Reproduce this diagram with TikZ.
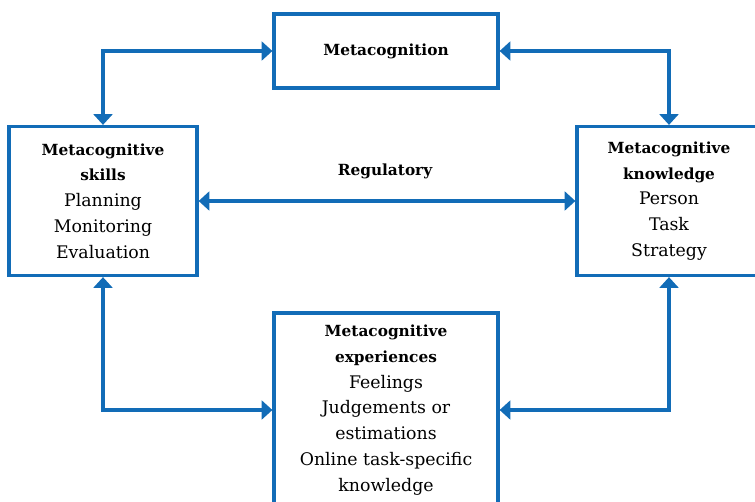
\documentclass[tikz,border=0pt]{standalone}
\usepackage{fontspec}
\setmainfont{DejaVu Serif}
\usetikzlibrary{arrows.meta}
\definecolor{mcblue}{RGB}{18,108,183}
\newcommand\hd[1]{{\bfseries\fontsize{11.5pt}{19.3pt}\selectfont #1}}

\begin{document}
\begin{tikzpicture}[x=0.75pt, y=-0.75pt,
    >={Triangle[width=14pt,length=8pt]},
    box/.style={draw=mcblue, line width=2.4pt, align=center, inner sep=0pt,
      font=\fontsize{13pt}{19.3pt}\selectfont},
    head/.style={font=\bfseries\fontsize{11.5pt}{19.3pt}\selectfont},
    link/.style={<->, draw=mcblue, line width=2.4pt}]
  \useasboundingbox (0,0) rectangle (755,501);
  \clip (0,0) rectangle (755,501);

  % the four boxes
  \node[box, head, minimum width=168pt, minimum height=55.5pt] (meta) at (386,51) {Metacognition};
  \node[box, minimum width=141pt, minimum height=111.75pt] (skills) at (103,201)
    {\hd{Metacognitive}\\\hd{skills}\\Planning\\Monitoring\\Evaluation};
  \node[box, minimum width=138pt, minimum height=111.75pt] (know) at (669,201)
    {\hd{Metacognitive}\\\hd{knowledge}\\Person\\Task\\Strategy};
  \node[box, minimum width=168pt, minimum height=145.5pt] (exper) at (386,410)
    {\hd{Metacognitive}\\\hd{experiences}\\Feelings\\Judgements or\\estimations\\Online task-specific\\knowledge};

  \node[head] (reg) at (385,171) {Regulatory};

  % connectors
  \draw[link] (skills.north) |- (meta.west);
  \draw[link] (meta.east) -| (know.north);
  \draw[link] (skills.east) -- (know.west);
  \draw[link] (skills.south) |- (exper.west);
  \draw[link] (know.south) |- (exper.east);
\end{tikzpicture}
\end{document}
